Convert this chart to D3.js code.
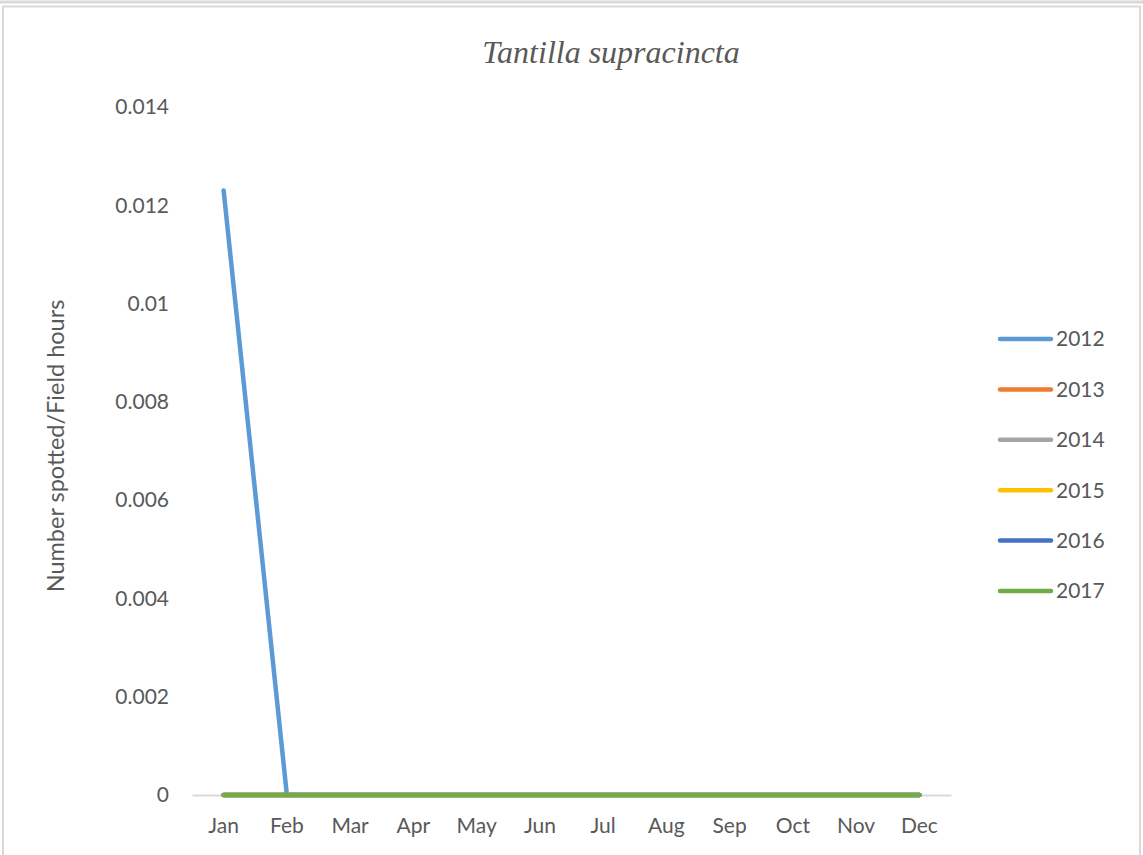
<!DOCTYPE html>
<html>
<head>
<meta charset="utf-8">
<script src="https://cdn.jsdelivr.net/npm/d3@7"></script>
<style>
  html, body { margin: 0; padding: 0; background: #fff; }
  svg { display: block; }
</style>
</head>
<body>
<div id="chart"></div>
<script>
const months = ['Jan', 'Feb', 'Mar', 'Apr', 'May', 'Jun', 'Jul', 'Aug', 'Sep', 'Oct', 'Nov', 'Dec']
const years = ['2012', '2013', '2014', '2015', '2016', '2017']
const yTicks = [0, 0.002, 0.004, 0.006, 0.008, 0.01, 0.012, 0.014]

// number spotted / field hours, one row per year
const values2012 = [0.0123, 0, 0, 0, 0, 0, 0, 0, 0, 0, 0, 0]
const values2013 = [0, 0, 0, 0, 0, 0, 0, 0, 0, 0, 0, 0]
const values2014 = [0, 0, 0, 0, 0, 0, 0, 0, 0, 0, 0, 0]
const values2015 = [0, 0, 0, 0, 0, 0, 0, 0, 0, 0, 0, 0]
const values2016 = [0, 0, 0, 0, 0, 0, 0, 0, 0, 0, 0, 0]
const values2017 = [0, 0, 0, 0, 0, 0, 0, 0, 0, 0, 0, 0]

const colors = ['#5B9BD5', '#ED7D31', '#A5A5A5', '#FFC000', '#4472C4', '#70AD47']

const series = years.map((y, i) => ({
  year: y,
  color: colors[i],
  values: [values2012, values2013, values2014, values2015, values2016, values2017][i]
}))

const width = 1143
const height = 855
const plot = { left: 192, right: 951, top: 107, bottom: 795 }
const textColor = '#595959'
const font = 'Lato, "Open Sans", sans-serif'

const svg = d3.select('#chart').append('svg')
  .attr('width', width)
  .attr('height', height)

// outer frames
svg.append('line')
  .attr('x1', 0).attr('x2', width)
  .attr('y1', 2).attr('y2', 2)
  .attr('stroke', '#d9d9d9').attr('stroke-width', 3)
svg.append('rect')
  .attr('x', 3).attr('y', 6.5)
  .attr('width', 1137).attr('height', 860)
  .attr('fill', 'none')
  .attr('stroke', '#d9d9d9').attr('stroke-width', 2)

const xScale = d3.scaleBand()
  .domain(months)
  .range([plot.left, plot.right])
  .padding(0)
const xPos = m => xScale(m) + xScale.bandwidth() / 2

const yScale = d3.scaleLinear()
  .domain([0, 0.014])
  .range([plot.bottom, plot.top])

// title
svg.append('text')
  .attr('x', 611)
  .attr('y', 63)
  .attr('text-anchor', 'middle')
  .attr('fill', textColor)
  .style('font-family', '"Liberation Serif", "DejaVu Serif", serif')
  .style('font-style', 'italic')
  .style('font-size', '32px')
  .text('Tantilla supracincta')

// y axis labels (no axis line)
const yAxis = svg.append('g')
  .attr('transform', `translate(${plot.left - 20}, 0)`)
  .call(d3.axisLeft(yScale).tickValues(yTicks).tickSize(0).tickFormat(d => d === 0 ? '0' : String(+d.toFixed(3))))
yAxis.select('.domain').remove()
yAxis.selectAll('text')
  .attr('fill', textColor)
  .style('font-family', font)
  .style('font-size', '21px')

// x axis
const xAxis = svg.append('g')
  .attr('transform', `translate(0, ${plot.bottom})`)
  .call(d3.axisBottom(xScale).tickSize(0).tickPadding(23))
xAxis.select('.domain')
  .attr('stroke', '#d9d9d9')
  .attr('stroke-width', 2)
xAxis.selectAll('text')
  .attr('fill', textColor)
  .style('font-family', font)
  .style('font-size', '21px')

// y axis title
svg.append('text')
  .attr('transform', `translate(64, 446) rotate(-90)`)
  .attr('text-anchor', 'middle')
  .attr('fill', textColor)
  .style('font-family', font)
  .style('font-size', '23.5px')
  .text('Number spotted/Field hours')

// lines
const line = d3.line()
  .x((d, i) => xPos(months[i]))
  .y(d => yScale(d))

svg.append('g')
  .selectAll('path')
  .data(series)
  .join('path')
  .attr('d', d => line(d.values))
  .attr('fill', 'none')
  .attr('stroke', d => d.color)
  .attr('stroke-width', 4.5)
  .attr('stroke-linecap', 'round')
  .attr('stroke-linejoin', 'round')

// legend
const legend = svg.append('g')
  .selectAll('g')
  .data(series)
  .join('g')
  .attr('transform', (d, i) => `translate(0, ${339 + i * 50.4})`)
legend.append('line')
  .attr('x1', 1000).attr('x2', 1051)
  .attr('y1', 0).attr('y2', 0)
  .attr('stroke', d => d.color)
  .attr('stroke-width', 4.5)
  .attr('stroke-linecap', 'round')
legend.append('text')
  .attr('x', 1056)
  .attr('y', 0)
  .attr('dy', '0.35em')
  .attr('fill', textColor)
  .style('font-family', font)
  .style('font-size', '21px')
  .text(d => d.year)
</script>
</body>
</html>
